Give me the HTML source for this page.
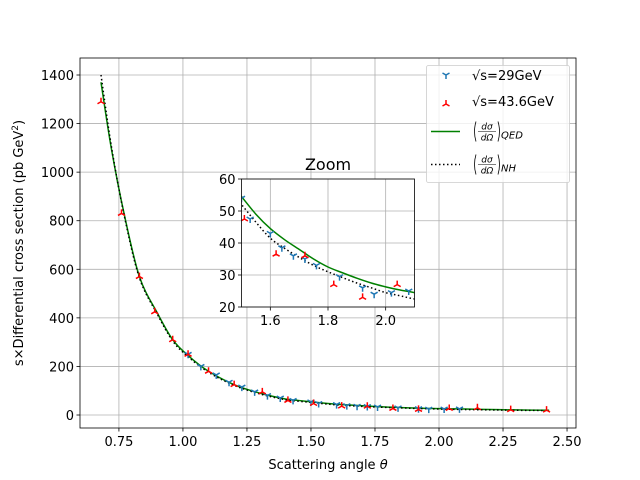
<!DOCTYPE html>
<html><head><meta charset="utf-8"><style>
body{margin:0;background:#fff}
svg{font-family:"DejaVu Sans","Liberation Sans",sans-serif;display:block}
</style></head><body>
<svg id="chart" width="640" height="480" viewBox="0 0 640 480"></svg>
<script>
// ---- data ----
const curveX = [0.68,0.72,0.77,0.83,0.90,0.96,1.02,1.10,1.20,1.30,1.40,1.45,1.50,1.55,1.60,1.65,1.70,1.75,1.80,1.85,1.90,1.95,2.00,2.05,2.10,2.20,2.30,2.43];
const qedY   = [1370,1100,830,570,420,310,245,180,125,90,66,60,54.5,49,44.5,41,38,35,32.5,30.7,29,27.5,26.3,25.3,24.5,22.5,21,19.5];
const nhY    = [1400,1110,825,565,415,305,240,176,122,87,63,57,52,46.5,41.5,38.3,35.5,33,31,29.2,27.5,26,24.5,23.5,22.5,21,19.5,18.5];
const blueX  = [1.02,1.07,1.13,1.18,1.23,1.28,1.33,1.38,1.43,1.50,1.53,1.60,1.64,1.68,1.72,1.76,1.84,1.92,1.96,2.02,2.08];
const blueY  = [250,200,165,135,115,95,80,70,60,54,47.5,43,38.5,36,35,33,29.5,26,24,24.5,25];
const redX   = [0.68,0.76,0.83,0.89,0.96,1.02,1.10,1.20,1.31,1.41,1.51,1.62,1.72,1.82,1.92,2.04,2.15,2.28,2.42];
const redY   = [1290,830,570,425,310,250,180,125,95,60,47.5,36.5,36,27,23,27,30,22,20];
const xTicks = [0.75,1.00,1.25,1.50,1.75,2.00,2.25,2.50];
const yTicks = [0,200,400,600,800,1000,1200,1400];
const ixTicks = [1.6,1.8,2.0];
const iyTicks = [20,30,40,50,60];

const NS="http://www.w3.org/2000/svg";
const svg=document.getElementById('chart');
function el(t,a,p){const e=document.createElementNS(NS,t);for(const k in a)e.setAttribute(k,a[k]);(p||svg).appendChild(e);return e;}

const M={l:80,r:576,t:58,b:428,x0:0.598,x1:2.535,y0:-53.5,y1:1470};
const IN={l:241.5,r:414.5,t:179,b:307,x0:1.5,x1:2.1,y0:20,y1:60};
function sx(a,v){return a.l+(v-a.x0)/(a.x1-a.x0)*(a.r-a.l);}
function sy(a,v){return a.b-(v-a.y0)/(a.y1-a.y0)*(a.b-a.t);}
function smooth(pts){
  let d='M'+pts[0][0]+','+pts[0][1];
  for(let i=0;i<pts.length-1;i++){
    const p0=pts[Math.max(0,i-1)],p1=pts[i],p2=pts[i+1],p3=pts[Math.min(pts.length-1,i+2)];
    const c1x=p1[0]+(p2[0]-p0[0])/6,c1y=p1[1]+(p2[1]-p0[1])/6;
    const c2x=p2[0]-(p3[0]-p1[0])/6,c2y=p2[1]-(p3[1]-p1[1])/6;
    d+=`C${c1x},${c1y} ${c2x},${c2y} ${p2[0]},${p2[1]}`;
  }
  return d;
}

function drawAxes(a,xt,yt,fmtx,fmty,fs,pre){
  const g=el('g',{});
  
  
  xt.forEach(v=>{const x=sx(a,v);el('line',{x1:x,x2:x,y1:a.t,y2:a.b,stroke:'#b0b0b0','stroke-width':0.8},g);
    el('line',{x1:x,x2:x,y1:a.b,y2:a.b+3.5,stroke:'#000','stroke-width':0.8},g);
    const t=el('text',{x:x,y:a.b+18,'font-size':fs,'text-anchor':'middle'},g);t.textContent=fmtx(v);
    
    });
  yt.forEach(v=>{const y=sy(a,v);el('line',{x1:a.l,x2:a.r,y1:y,y2:y,stroke:'#b0b0b0','stroke-width':0.8},g);
    el('line',{x1:a.l-3.5,x2:a.l,y1:y,y2:y,stroke:'#000','stroke-width':0.8},g);
    const t=el('text',{x:a.l-6,y:y+5,'font-size':fs,'text-anchor':'end'},g);t.textContent=fmty(v);
    
    });
}
function drawSeries(a,pre){
  const clip=el('clipPath',{id:pre+'clip'});el('rect',{x:a.l,y:a.t,width:a.r-a.l,height:a.b-a.t},clip);
  const g=el('g',{'clip-path':'url(#'+pre+'clip)'});
  const q=el('path',{d:smooth(curveX.map((x,i)=>[sx(a,x),sy(a,qedY[i])])),fill:'none',stroke:'green','stroke-width':1.5},g);
  
  
  const n=el('path',{d:smooth(curveX.map((x,i)=>[sx(a,x),sy(a,nhY[i])])),fill:'none',stroke:'#000','stroke-width':1.5,'stroke-dasharray':'1.5,2.5'},g);
  
  
  blueX.forEach((x,i)=>{const m=triDown(sx(a,x),sy(a,blueY[i]),'#1f77b4',g);
    
    });
  redX.forEach((x,i)=>{const m=triUp(sx(a,x),sy(a,redY[i]),'red',g);
    
    });
}
function triDown(x,y,c,p){return el('path',{d:`M${x},${y}v4M${x},${y}l-3.5,-2M${x},${y}l3.5,-2`,stroke:c,'stroke-width':1.5,fill:'none'},p);}
function triUp(x,y,c,p){return el('path',{d:`M${x},${y}v-4M${x},${y}l-3.5,2M${x},${y}l3.5,2`,stroke:c,'stroke-width':1.5,fill:'none'},p);}

drawAxes(M,xTicks,yTicks,v=>v.toFixed(2),v=>String(v),13,'main-');
drawSeries(M,'main-');
el('rect',{x:M.l,y:M.t,width:M.r-M.l,height:M.b-M.t,fill:'none',stroke:'#000','stroke-width':0.8});
let t=el('text',{x:328,y:469,'font-size':13,'text-anchor':'middle'});t.innerHTML='Scattering angle <tspan font-style="italic">θ</tspan>';


t=el('text',{x:0,y:0,'font-size':13,'text-anchor':'middle',transform:'translate(23,243) rotate(-90)'});
t.innerHTML='s×Differential cross section (pb GeV<tspan dy="-5" font-size="9">2</tspan><tspan dy="5">)</tspan>';



// inset
el('rect',{x:IN.l,y:IN.t,width:IN.r-IN.l,height:IN.b-IN.t,fill:'#fff'});
drawAxes(IN,ixTicks,iyTicks,v=>v.toFixed(1),v=>String(v),13,'inset-');
drawSeries(IN,'inset-');
el('rect',{x:IN.l,y:IN.t,width:IN.r-IN.l,height:IN.b-IN.t,fill:'none',stroke:'#000','stroke-width':0.8});
t=el('text',{x:328,y:170,'font-size':16,'text-anchor':'middle'});t.textContent='Zoom';



// legend
const L=el('g',{});


el('rect',{x:426.5,y:65.5,width:143,height:117,rx:2,fill:'#fff','fill-opacity':0.8,stroke:'#ccc','stroke-width':0.8},L);
triDown(446,75,'#1f77b4',L);triUp(446,104,'red',L);
el('line',{x1:431,x2:460,y1:131.5,y2:131.5,stroke:'green','stroke-width':1.5},L);
el('line',{x1:431,x2:460,y1:164.5,y2:164.5,stroke:'#000','stroke-width':1.5,'stroke-dasharray':'1.5,2.5'},L);
t=el('text',{x:472,y:80,'font-size':13},L);t.textContent='√s=29GeV';


t=el('text',{x:472,y:106,'font-size':13},L);t.textContent='√s=43.6GeV';


[[131.5,'QED','legend-entry-qed'],[164.5,'NH','legend-entry-nh']].forEach(([y,s,n])=>{
  const g=el('g',{},L);
  
  
  el('path',{d:`M476,${y-10}q-3,10 0,20M498,${y-10}q3,10 0,20`,stroke:'#000','stroke-width':0.8,fill:'none'},g);
  el('line',{x1:478,x2:496,y1:y,y2:y,stroke:'#000','stroke-width':0.6},g);
  let a=el('text',{x:487,y:y-2,'font-size':9,'text-anchor':'middle','font-style':'italic'},g);a.textContent='dσ';
  a=el('text',{x:487,y:y+9,'font-size':9,'text-anchor':'middle','font-style':'italic'},g);a.textContent='dΩ';
  a=el('text',{x:501,y:y+7,'font-size':10,'font-style':'italic'},g);a.textContent=s;
});
</script>
</body></html>
